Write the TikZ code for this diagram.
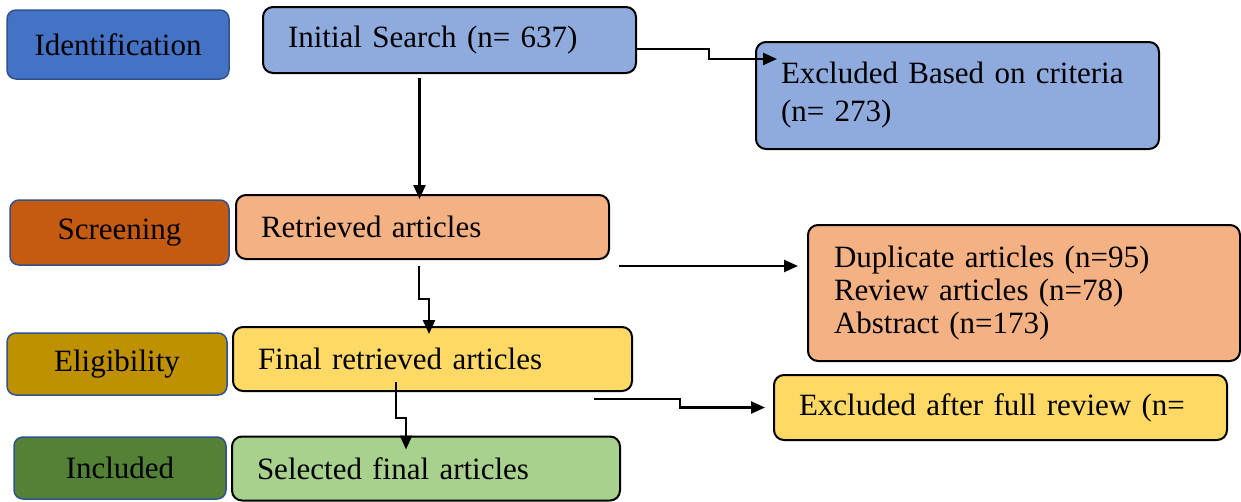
\documentclass[tikz,border=0pt]{standalone}
\usepackage{fontspec}
\setmainfont{Liberation Serif}
\usepackage{tikz}
\usetikzlibrary{positioning,arrows.meta,calc}
\usepackage{xcolor}

\definecolor{idfill}{HTML}{4472C4}
\definecolor{scrfill}{HTML}{C55A11}
\definecolor{elifill}{HTML}{BF9000}
\definecolor{incfill}{HTML}{538135}
\definecolor{phaseline}{HTML}{2F528F}
\definecolor{bluebox}{HTML}{8FAADC}
\definecolor{orangebox}{HTML}{F4B183}
\definecolor{yellowbox}{HTML}{FFD966}
\definecolor{greenbox}{HTML}{A9D18E}

\begin{document}
\begin{tikzpicture}[
    x=1pt, y=-1pt,
    phase/.style={draw=phaseline, line width=1.5pt, rounded corners=9pt,
                  inner sep=0pt, align=center,
                  font=\fontsize{31}{34}\selectfont},
    item/.style={draw=black, line width=2pt, rounded corners=10pt,
                 inner xsep=25pt, inner ysep=0pt, align=left,
                 font=\fontsize{31}{33}\selectfont},
    arr/.style={-{Triangle[length=14pt,width=12pt]}, line width=2.4pt},
  ]
  \useasboundingbox (0,0) rectangle (1241,501);

  % Phases
  \node[phase, fill=idfill, minimum width=222pt, minimum height=69pt] (ident) at (118,44.5) {Identification};
  \node[phase, fill=scrfill, minimum width=219pt, minimum height=65pt] (screen) at (119.5,232.5) {Screening};
  \node[phase, fill=elifill, minimum width=220pt, minimum height=62pt] (elig) at (117,364) {Eligibility};
  \node[phase, fill=incfill, minimum width=212pt, minimum height=62pt] (incl) at (120,468) {Included};

  % Records
  \node[item, fill=bluebox, text width=323pt, minimum height=66pt] (init) at (449.5,40) {Initial Search (n= 637)};
  \node[item, fill=bluebox, text width=353pt, minimum height=107pt] (excl1) at (957.5,95.5) {Excluded Based on criteria\\[5pt](n= 273)};
  \node[item, fill=orangebox, text width=323pt, minimum height=64pt] (retr) at (422.5,227) {Retrieved articles};
  \node[item, fill=orangebox, text width=380pt, minimum height=136pt, inner xsep=26pt] (dup) at (1024,293) {Duplicate articles (n=95)\\Review articles (n=78)\\Abstract (n=173)};
  \node[item, fill=yellowbox, text width=349pt, minimum height=64pt] (final) at (432.5,359) {Final retrieved articles};
  \node[item, fill=yellowbox, text width=403pt, minimum height=65pt] (excl2) at (1000.5,407.5) {Excluded after full review (n=};
  \node[item, fill=greenbox, text width=338pt, minimum height=64pt] (sel) at (426,468.5) {Selected final articles};

  % Connectors
  \draw[arr] ([xshift=-3pt,yshift=-4pt]init.south -| retr.north) -- ([xshift=-3pt,yshift=-5pt]retr.north);
  \draw[arr] ([yshift=-9pt]init.east) -- ++(72,0) |- ([xshift=22pt,yshift=36.5pt]excl1.west);
  \draw[arr] ([xshift=-3.5pt,yshift=-6pt]retr.south) -- ++(0,33) -| ([xshift=-3.5pt,yshift=-8pt]final.north);
  \coordinate (rs) at ([xshift=9pt,yshift=-6pt]retr.south east);
  \draw[arr] (rs) -- ($(rs -| dup.west)+(-9,0)$);
  \draw[arr] ([xshift=-36.5pt,yshift=10pt]final.south) -- ++(0,36) -| ([xshift=-20pt,yshift=-14pt]sel.north);
  \draw[arr] ([xshift=-39pt,yshift=-7pt]final.south east) -- ++(86,0) |- ([xshift=-8pt]excl2.west);
\end{tikzpicture}
\end{document}
